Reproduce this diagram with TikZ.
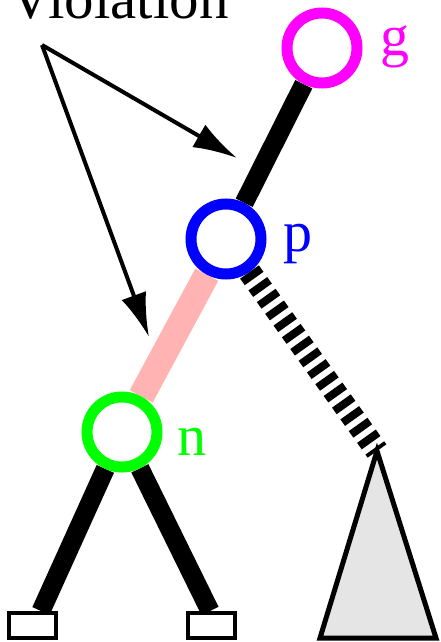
\documentclass[tikz,border=0pt]{standalone}
\usepackage{fontspec}
\setmainfont{Liberation Serif}
\usetikzlibrary{arrows.meta,backgrounds}
\definecolor{rbmagenta}{RGB}{255,0,255}
\definecolor{rbblue}{RGB}{0,0,255}
\definecolor{rbgreen}{RGB}{0,255,0}
\definecolor{rbpink}{RGB}{255,179,179}
\definecolor{rbgray}{RGB}{229,229,229}
\tikzset{
 rbt node/.style={circle,draw,fill=white,line width=11pt,minimum size=70pt,
                  inner sep=0pt},
 rbt edge/.style={line width=19pt},
 rbt violated/.style={line width=26pt,draw=rbpink},
 rbt striped/.style={line width=23pt,dash pattern=on 8pt off 6.4pt},
 rbt leaf/.style={rectangle,draw,fill=white,line width=4pt,minimum width=47pt,
                  minimum height=25pt,inner sep=0pt},
 rbt subtree/.style={draw,fill=rbgray,line width=5pt,line join=miter},
 rbt label/.style={anchor=base west,inner sep=0pt,font=\fontsize{58}{60}\selectfont},
 rbt pointer/.style={line width=4pt,-{Latex[length=44pt,width=26pt]}}
}
\begin{document}
\begin{tikzpicture}[x=1pt,y=-1pt]
 \useasboundingbox (0,0) rectangle (440,642);
 % nodes of the tree
 \node[rbt node,draw=rbmagenta] (g) at (322,48) {};
 \node[rbt node,draw=rbblue] (p) at (226,239) {};
 \node[rbt node,draw=rbgreen] (n) at (122,432) {};
 \foreach \c/\t/\x/\y in {rbmagenta/g/380/56,rbblue/p/283/251,rbgreen/n/177/455}{
   \node[rbt label,text=\c] (\t lbl) at (\x,\y) {\t};
 }
 \node[rbt leaf] (ll) at (32.5,625.5) {};
 \node[rbt leaf] (lr) at (211.5,625.5) {};
 \coordinate (apex) at (377,451);
 \coordinate (sl) at (320,638);
 \coordinate (sr) at (436,638);
 \begin{scope}[on background layer]
   \draw[rbt edge] (g) -- (p);
   \draw[rbt violated] (p) -- (n);
   \draw[rbt edge] (n) -- ([xshift=8.5pt]ll.north);
   \draw[rbt edge] (n) -- ([xshift=-1.5pt]lr.north);
   \draw[rbt striped] (p) -- (apex);
 \end{scope}
 \draw[rbt subtree] (sl) -- (apex) -- (sr) -- cycle;
 % the violation pointers
 \node[rbt label,font=\fontsize{59}{60}\selectfont] (viol) at (9,19) {Violation};
 \coordinate (src) at (42,45);
 \coordinate (tip1) at (237,158);
 \coordinate (tip2) at (149,337);
 \draw[rbt pointer] (src) -- (tip1);
 \draw[rbt pointer] (src) -- (tip2);
\end{tikzpicture}
\end{document}
